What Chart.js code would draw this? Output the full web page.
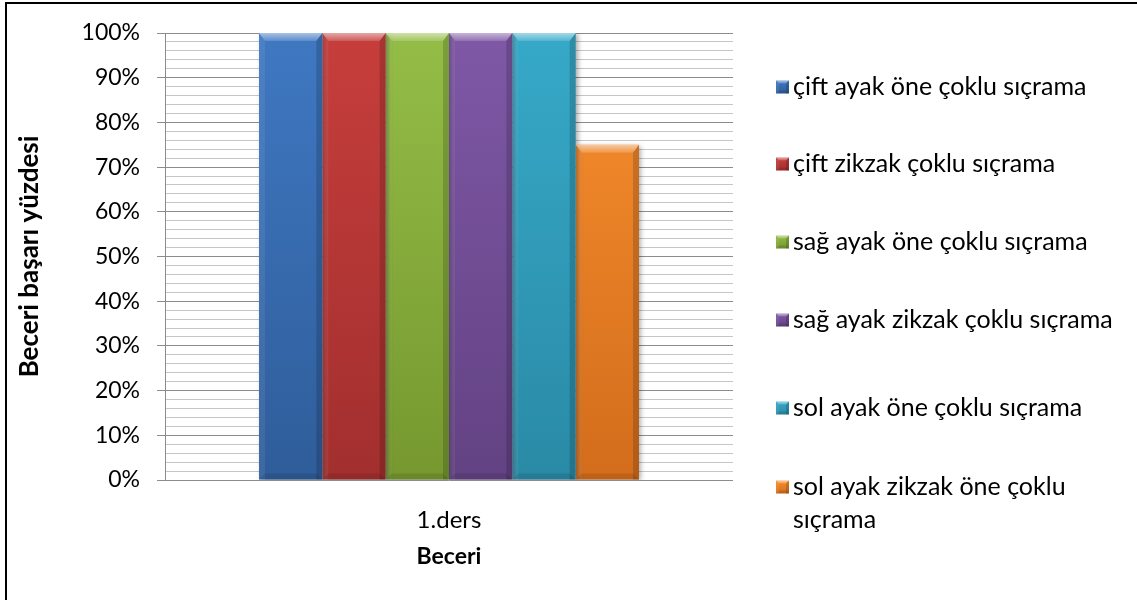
<!DOCTYPE html>
<html>
<head>
<meta charset="utf-8">
<title>Beceri başarı yüzdesi</title>
<script src="https://cdn.jsdelivr.net/npm/chart.js@4.4.1/dist/chart.umd.min.js"></script>
<style>
  html, body { margin: 0; padding: 0; background: #ffffff; }
  #wrap { position: relative; width: 1137px; height: 600px; }
</style>
</head>
<body>
<div id="wrap"><canvas id="chart" width="1137" height="600"></canvas></div>
<script>
// ---- data ----
const categories = ['1.ders'];
const seriesNames = [
  'çift ayak öne çoklu sıçrama',
  'çift zikzak çoklu sıçrama',
  'sağ ayak öne çoklu sıçrama',
  'sağ ayak zikzak çoklu sıçrama',
  'sol ayak öne çoklu sıçrama',
  'sol ayak zikzak öne çoklu sıçrama'
];
const ciftAyakOne    = [100];
const ciftZikzak     = [100];
const sagAyakOne     = [100];
const sagAyakZikzak  = [100];
const solAyakOne     = [100];
const solAyakZikzak  = [75];
const seriesValues = [ciftAyakOne, ciftZikzak, sagAyakOne, sagAyakZikzak, solAyakOne, solAyakZikzak];
const yMin = 0, yMax = 100, yMinorStep = 2, yMajorStep = 10;
const yTitle = 'Beceri başarı yüzdesi';
const xTitle = 'Beceri';

// ---- styling ----
const FONT = 'Lato, "Open Sans", sans-serif';
const LEGEND_FS = 25;
// light (top) and dark (bottom) face colours for each series
const faceTop    = ['#3f78c2', '#c63e3c', '#94bd47', '#7f58a6', '#36a9c8', '#f88e2e'];
const faceBottom = ['#2f5d9a', '#a22f2e', '#76982f', '#634283', '#2a8aa6', '#d36d1c'];
const legendRowY = [87, 164, 242, 320, 408, 487];
const legendX = 776, legendTextX = 793, legendMaxW = 335, legendLineH = 33;

function faceGradient(ctx, i, top, bottom) {
  const g = ctx.createLinearGradient(0, top, 0, bottom);
  g.addColorStop(0, faceTop[i]);
  g.addColorStop(1, faceBottom[i]);
  return g;
}

// soft bevel drawn over a rectangle
function drawBevel(ctx, left, top, right, bottom, b, s) {
  ctx.save();
  const tg = ctx.createLinearGradient(0, top, 0, top + b);
  tg.addColorStop(0, 'rgba(255,255,255,0.55)');
  tg.addColorStop(1, 'rgba(255,255,255,0.15)');
  ctx.fillStyle = tg;
  ctx.beginPath();
  ctx.moveTo(left, top); ctx.lineTo(right, top);
  ctx.lineTo(right - s, top + b); ctx.lineTo(left + s, top + b);
  ctx.closePath(); ctx.fill();
  ctx.fillStyle = 'rgba(255,255,255,0.07)';
  ctx.beginPath();
  ctx.moveTo(left, top); ctx.lineTo(left + s, top + b);
  ctx.lineTo(left + s, bottom); ctx.lineTo(left, bottom);
  ctx.closePath(); ctx.fill();
  ctx.fillStyle = 'rgba(0,0,0,0.16)';
  ctx.beginPath();
  ctx.moveTo(right, top); ctx.lineTo(right - s, top + b);
  ctx.lineTo(right - s, bottom); ctx.lineTo(right, bottom);
  ctx.closePath(); ctx.fill();
  ctx.fillStyle = 'rgba(0,0,0,0.10)';
  ctx.beginPath();
  ctx.moveTo(left, bottom); ctx.lineTo(left + s, bottom - s);
  ctx.lineTo(right - s, bottom - s); ctx.lineTo(right, bottom);
  ctx.closePath(); ctx.fill();
  ctx.restore();
}

const barShadow = {
  id: 'barShadow',
  beforeDatasetDraw(chart) {
    const ctx = chart.ctx;
    ctx.save();
    ctx.shadowColor = 'rgba(0,0,0,0.35)';
    ctx.shadowBlur = 5;
    ctx.shadowOffsetX = 2;
    ctx.shadowOffsetY = 1;
  },
  afterDatasetDraw(chart) { chart.ctx.restore(); }
};

const bevels = {
  id: 'bevels',
  afterDatasetsDraw(chart) {
    const ctx = chart.ctx;
    chart.data.datasets.forEach((ds, i) => {
      chart.getDatasetMeta(i).data.forEach(el => {
        const p = el.getProps(['x', 'y', 'base', 'width'], true);
        drawBevel(ctx, p.x - p.width / 2, p.y, p.x + p.width / 2, p.base, 8, 6);
      });
    });
  }
};

function wrapWords(ctx, text, maxW) {
  const words = text.split(' ');
  const lines = [];
  let cur = '';
  words.forEach(w => {
    const t = cur ? cur + ' ' + w : w;
    if (ctx.measureText(t).width > maxW && cur) { lines.push(cur); cur = w; }
    else cur = t;
  });
  if (cur) lines.push(cur);
  return lines;
}

const sideLegend = {
  id: 'sideLegend',
  afterDraw(chart) {
    const ctx = chart.ctx;
    ctx.save();
    ctx.font = `${LEGEND_FS}px ${FONT}`;
    ctx.textBaseline = 'middle';
    ctx.textAlign = 'left';
    chart.data.datasets.forEach((ds, i) => {
      const y = legendRowY[i];
      const m = 13, mx = legendX, my = y - m / 2;
      ctx.fillStyle = faceGradient(ctx, i, my, my + m);
      ctx.fillRect(mx, my, m, m);
      drawBevel(ctx, mx, my, mx + m, my + m, 3, 3);
      ctx.fillStyle = '#000000';
      wrapWords(ctx, ds.label, legendMaxW).forEach((line, k) => {
        ctx.fillText(line, legendTextX, y + k * legendLineH);
      });
    });
    ctx.restore();
  }
};

const frame = {
  id: 'frame',
  afterDraw(chart) {
    const ctx = chart.ctx;
    ctx.save();
    ctx.fillStyle = '#000000';
    ctx.fillRect(5, 2, chart.width - 5, 2);
    ctx.fillRect(5, 2, 2, chart.height - 2);
    ctx.restore();
  }
};

const datasets = seriesNames.map((name, i) => ({
  label: name,
  data: seriesValues[i],
  backgroundColor: (c) => {
    const area = c.chart.chartArea;
    if (!area) return faceTop[i];
    return faceGradient(c.chart.ctx, i, area.top, area.bottom);
  },
  borderWidth: 0,
  barPercentage: 1.0,
  categoryPercentage: 0.669
}));

new Chart(document.getElementById('chart'), {
  type: 'bar',
  data: { labels: categories, datasets },
  options: {
    responsive: false,
    animation: false,
    devicePixelRatio: 1,
    layout: { padding: { left: 8, top: 33, right: 404, bottom: 0 } },
    plugins: { legend: { display: false }, tooltip: { enabled: false } },
    scales: {
      x: {
        grid: { display: false, drawTicks: false },
        border: { display: false },
        ticks: { color: '#000', padding: 26, font: { family: FONT, size: 24 } },
        title: { display: true, text: xTitle, color: '#000',
                 font: { family: FONT, size: 23, weight: 'bold' }, padding: { top: 0, bottom: 30 } },
        afterFit(scale) { scale.height = 120; }
      },
      y: {
        min: yMin, max: yMax,
        border: { display: true, color: '#8c8c8c', width: 1 },
        grid: {
          color: (c) => (c.tick && c.tick.value % yMajorStep === 0) ? '#8c8c8c' : '#c6c6c6',
          tickColor: (c) => (c.tick && c.tick.value % yMajorStep === 0) ? '#8c8c8c' : 'rgba(0,0,0,0)',
          tickLength: 8, lineWidth: 1
        },
        ticks: {
          stepSize: yMinorStep, autoSkip: false, color: '#000', padding: 17,
          font: { family: FONT, size: 23 },
          callback: (v) => (v % yMajorStep === 0 ? v + '%' : '')
        },
        title: { display: true, text: yTitle, color: '#000',
                 font: { family: FONT, size: 26, weight: 'bold' }, padding: { top: 6, bottom: 0 } },
        afterFit(scale) { scale.width = 157; }
      }
    }
  },
  plugins: [barShadow, bevels, sideLegend, frame]
});
</script>
</body>
</html>
